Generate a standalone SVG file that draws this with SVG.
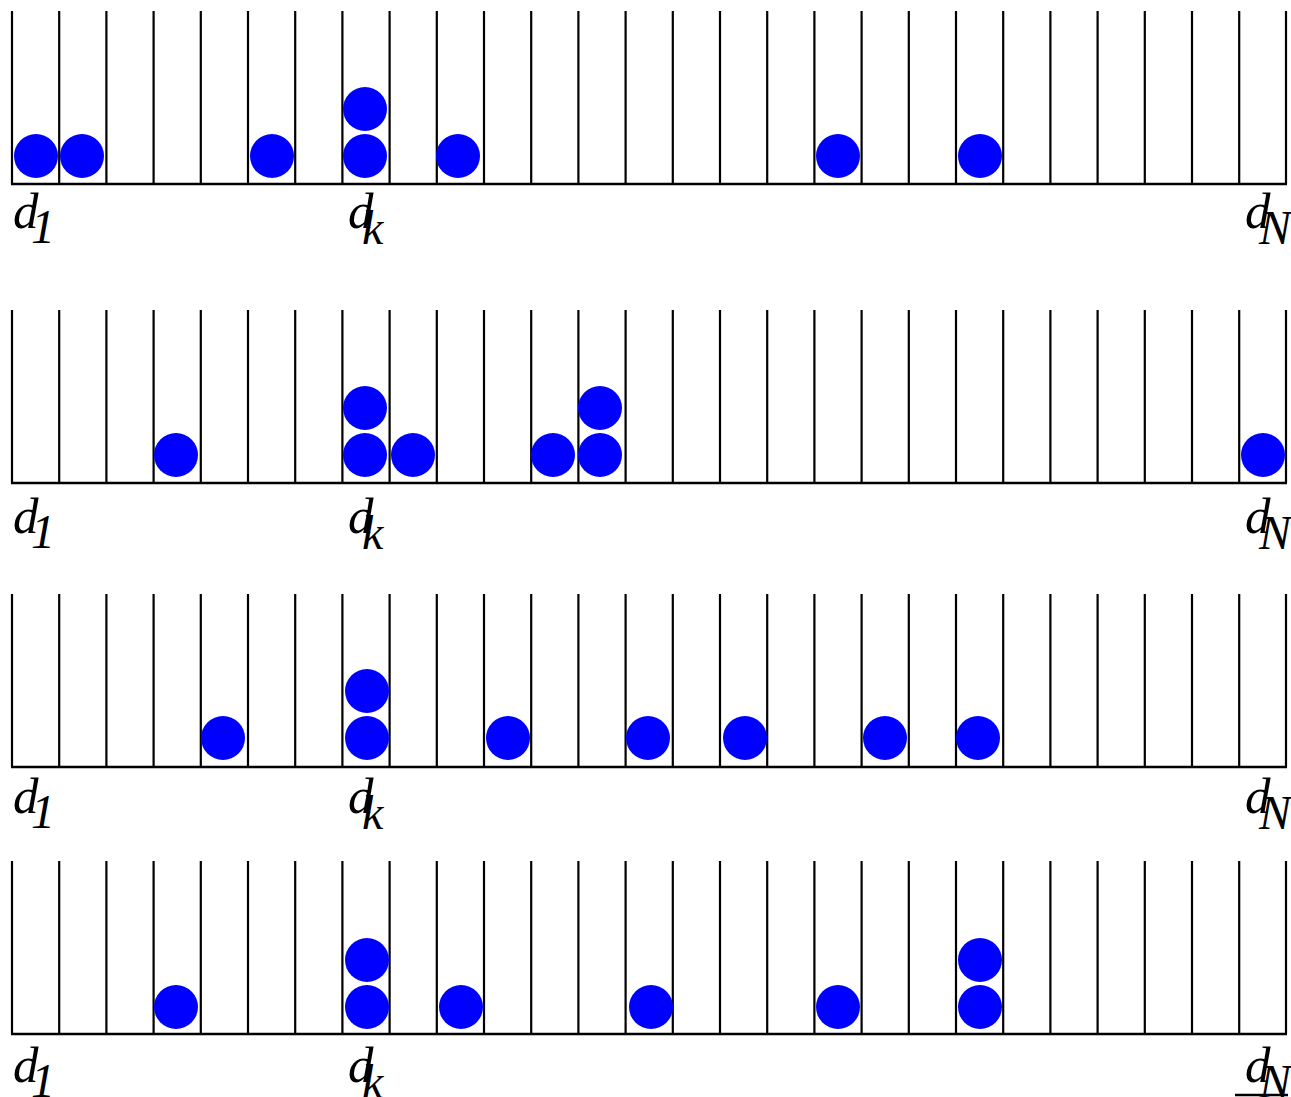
<svg xmlns="http://www.w3.org/2000/svg" width="1291" height="1097" viewBox="0 0 1291 1097">
<style>
.bin{stroke:#000;stroke-width:2.2;fill:none}
.base{stroke:#000;stroke-width:2.5}
.ball{fill:#0000ff}
.lbl{font-family:"Liberation Serif","Times New Roman",serif;font-style:italic;font-size:51px;fill:#000}
.sub{font-size:48px}
</style>
<defs>
<g id="bins">
<path class="bin" d="M12,0V173 M59.2,0V173 M106.4,0V173 M153.6,0V173 M200.8,0V173 M248,0V173 M295.2,0V173 M342.4,0V173 M389.6,0V173 M436.8,0V173 M484,0V173 M531.2,0V173 M578.4,0V173 M625.6,0V173 M672.8,0V173 M720,0V173 M767.2,0V173 M814.4,0V173 M861.6,0V173 M908.8,0V173 M956,0V173 M1003.2,0V173 M1050.4,0V173 M1097.6,0V173 M1144.8,0V173 M1192,0V173 M1239.2,0V173 M1286,0V173"/>
<line class="base" x1="11" y1="173" x2="1287" y2="173"/>
</g>
<circle id="b" r="22" class="ball"/>
</defs>
<g id="row1">
<use href="#bins" x="0" y="11"/>
<use href="#b" x="36" y="156"/><use href="#b" x="82" y="156"/><use href="#b" x="272" y="156"/>
<use href="#b" x="365" y="156"/><use href="#b" x="365" y="109"/><use href="#b" x="458" y="156"/>
<use href="#b" x="838" y="156"/><use href="#b" x="980" y="156"/>
<text class="lbl" x="13" y="228">d<tspan class="sub" x="31" y="243">1</tspan></text>
<text class="lbl" x="348" y="228">d<tspan class="sub" x="362" y="244">k</tspan></text>
<text class="lbl" x="1245" y="228">d<tspan class="sub" x="1259" y="244">N</tspan></text>
</g>
<g id="row2">
<use href="#bins" x="0" y="310"/>
<use href="#b" x="176" y="455"/><use href="#b" x="365" y="455"/><use href="#b" x="365" y="408"/>
<use href="#b" x="413" y="455"/><use href="#b" x="553" y="455"/><use href="#b" x="600" y="455"/>
<use href="#b" x="600" y="408"/><use href="#b" x="1263" y="455"/>
<text class="lbl" x="13" y="533">d<tspan class="sub" x="31" y="548">1</tspan></text>
<text class="lbl" x="348" y="533">d<tspan class="sub" x="362" y="549">k</tspan></text>
<text class="lbl" x="1245" y="533">d<tspan class="sub" x="1259" y="549">N</tspan></text>
</g>
<g id="row3">
<use href="#bins" x="0" y="594"/>
<use href="#b" x="223" y="738"/><use href="#b" x="367" y="738"/><use href="#b" x="367" y="691"/>
<use href="#b" x="508" y="738"/><use href="#b" x="648" y="738"/><use href="#b" x="745" y="738"/>
<use href="#b" x="885" y="738"/><use href="#b" x="978" y="738"/>
<text class="lbl" x="13" y="813">d<tspan class="sub" x="31" y="828">1</tspan></text>
<text class="lbl" x="348" y="813">d<tspan class="sub" x="362" y="829">k</tspan></text>
<text class="lbl" x="1245" y="813">d<tspan class="sub" x="1259" y="829">N</tspan></text>
</g>
<g id="row4">
<use href="#bins" x="0" y="861"/>
<use href="#b" x="176" y="1007"/><use href="#b" x="367" y="1007"/><use href="#b" x="367" y="960"/>
<use href="#b" x="461" y="1007"/><use href="#b" x="651" y="1007"/><use href="#b" x="838" y="1007"/>
<use href="#b" x="980" y="1007"/><use href="#b" x="980" y="960"/>
<text class="lbl" x="13" y="1082">d<tspan class="sub" x="31" y="1097">1</tspan></text>
<text class="lbl" x="348" y="1082">d<tspan class="sub" x="362" y="1098">k</tspan></text>
<text class="lbl" x="1245" y="1082">d<tspan class="sub" x="1259" y="1098">N</tspan></text>
<line class="base" x1="1235" y1="1095" x2="1288" y2="1095"/>
</g>
</svg>
